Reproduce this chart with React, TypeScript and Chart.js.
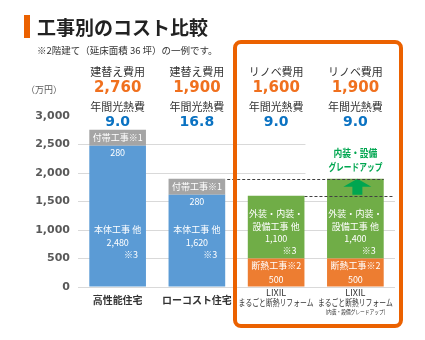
import { useEffect, useRef } from "react";
import { Chart, registerables } from "chart.js";

Chart.register(...registerables);

// ---- data ----
const categoryLines: string[][] = [
  ["高性能住宅"],
  ["ローコスト住宅"],
  ["LIXIL", "まるごと断熱リフォーム"],
  ["LIXIL", "まるごと断熱リフォーム", "(内装・設備グレードアップ)"],
];
const costTitles = ["建替え費用", "建替え費用", "リノベ費用", "リノベ費用"];
const costTotals = ["2,760", "1,900", "1,600", "1,900"];
const energyTitle = "年間光熱費";
const energyCosts = ["9.0", "16.8", "9.0", "9.0"];

const mainWork = [2480, 1620, null, null]; // 本体工事 他
const extraWork = [280, 280, null, null]; // 付帯工事
const insulationWork = [null, null, 500, 500]; // 断熱工事
const finishWork = [null, null, 1100, 1400]; // 外装・内装・設備工事 他

const yTicks = [0, 500, 1000, 1500, 2000, 2500, 3000];

const title = "工事別のコスト比較";
const subtitle = "※2階建て（延床面積 36 坪）の一例です。";
const unitLabel = "（万円）";
const upgradeNote = ["内装・設備", "グレードアップ"];

// ---- styles ----
const JP = '"Noto Sans CJK JP", "Noto Sans", sans-serif';
const NUM = '"DejaVu Sans", sans-serif';
const C_BLUE = "#5b9bd5";
const C_GRAY = "#a5a5a5";
const C_GREEN = "#70ad47";
const C_ORANGE = "#ed7d31";
const C_FRAME = "#eb6100";
const C_NUM_ORANGE = "#f0701e";
const C_NUM_BLUE = "#0a72c2";
const C_NOTE_GREEN = "#00a650";

const fmt = (v: number) => v.toLocaleString("en-US");

function text(
  ctx: CanvasRenderingContext2D,
  s: string,
  x: number,
  y: number,
  font: string,
  color: string,
  align: CanvasTextAlign = "center",
  maxWidth?: number
) {
  ctx.save();
  ctx.font = font;
  ctx.fillStyle = color;
  ctx.textAlign = align;
  ctx.textBaseline = "middle";
  if (maxWidth) ctx.fillText(s, x, y, maxWidth);
  else ctx.fillText(s, x, y);
  ctx.restore();
}

const decorPlugin = {
  id: "decor",
  beforeDatasetsDraw(chart: any) {
    // clear gridlines behind the upgrade note
    const { ctx, chartArea, scales } = chart;
    const y = scales.y;
    const bar3 = chart.getDatasetMeta(3).data[2];
    ctx.save();
    ctx.fillStyle = "#fff";
    const x0 = bar3.x + bar3.width / 2 + 1;
    ctx.fillRect(x0, y.getPixelForValue(2600), chartArea.right - x0 + 2, y.getPixelForValue(1950) - y.getPixelForValue(2600));
    ctx.restore();
  },
  afterDatasetsDraw(chart: any) {
    const { ctx, chartArea, scales } = chart;
    const xs = scales.x;

    // title
    ctx.save();
    ctx.fillStyle = C_FRAME;
    ctx.fillRect(24, 15, 6, 23);
    ctx.restore();
    text(ctx, title, 37, 28, `bold 19px ${JP}`, "#222", "left");
    text(ctx, subtitle, 37, 50, `9.5px ${JP}`, "#333", "left");
    text(ctx, unitLabel, 26, 90, `9px ${JP}`, "#595959", "left");

    // column headers
    costTitles.forEach((t, i) => {
      const x = xs.getPixelForValue(i);
      text(ctx, t, x, 72, `11px ${JP}`, "#333");
      text(ctx, costTotals[i], x, 88, `bold 15px ${NUM}`, C_NUM_ORANGE);
      text(ctx, energyTitle, x, 107, `11px ${JP}`, "#333");
      text(ctx, energyCosts[i], x, 122.5, `bold 14px ${NUM}`, C_NUM_BLUE);
    });

    // category labels
    categoryLines.forEach((lines, i) => {
      const x = xs.getPixelForValue(i);
      if (lines.length === 1) {
        text(ctx, lines[0], x, 300, `bold 10px ${JP}`, "#333");
      } else {
        text(ctx, lines[0], x, 293, `9px ${JP}`, "#333");
        text(ctx, lines[1], x, 303, `9px ${JP}`, "#333", "center", 75);
        if (lines[2]) text(ctx, lines[2], x, 312, `6px ${JP}`, "#333", "center", 60);
      }
    });

    const white = "#fff";
    const f9 = `9px ${JP}`;

    // main work labels (blue)
    chart.getDatasetMeta(0).data.forEach((bar: any, i: number) => {
      const v = mainWork[i];
      if (v == null) return;
      text(ctx, "本体工事 他", bar.x, bar.base - 57, f9, white);
      text(ctx, fmt(v), bar.x, bar.base - 44, f9, white);
      text(ctx, "※3", bar.x + bar.width / 2 - 8, bar.base - 32, f9, white, "right");
    });
    // extra work labels (gray)
    chart.getDatasetMeta(1).data.forEach((bar: any, i: number) => {
      const v = extraWork[i];
      if (v == null) return;
      text(ctx, "付帯工事※1", bar.x, (bar.y + bar.base) / 2, f9, white, "center", bar.width - 2);
      text(ctx, fmt(v), bar.x, bar.base + 7, f9, white);
    });
    // insulation (orange)
    chart.getDatasetMeta(2).data.forEach((bar: any, i: number) => {
      const v = insulationWork[i];
      if (v == null) return;
      text(ctx, "断熱工事※2", bar.x, bar.y + 7, f9, white, "center", bar.width - 2);
      text(ctx, fmt(v), bar.x, bar.y + 21, f9, white);
    });
    // finish work (green)
    chart.getDatasetMeta(3).data.forEach((bar: any, i: number) => {
      const v = finishWork[i];
      if (v == null) return;
      text(ctx, "外装・内装・", bar.x, bar.base - 45, f9, white);
      text(ctx, "設備工事 他", bar.x, bar.base - 32, f9, white);
      text(ctx, fmt(v), bar.x, bar.base - 20, f9, white);
      text(ctx, "※3", bar.x + bar.width / 2 - 8, bar.base - 8, f9, white, "right");
    });

    // upgrade annotation
    const bar2 = chart.getDatasetMeta(1).data[1];
    const bar3 = chart.getDatasetMeta(3).data[2];
    const bar4 = chart.getDatasetMeta(3).data[3];
    text(ctx, upgradeNote[0], bar4.x, 153, `bold 10px ${JP}`, C_NOTE_GREEN, "center", 44);
    text(ctx, upgradeNote[1], bar4.x, 167, `bold 10px ${JP}`, C_NOTE_GREEN, "center", 54);

    // arrow
    const ax = bar4.x + 2;
    const at = bar4.y;
    ctx.save();
    ctx.fillStyle = C_NOTE_GREEN;
    ctx.beginPath();
    ctx.moveTo(ax, at);
    ctx.lineTo(ax + 14, at + 8);
    ctx.lineTo(ax + 5, at + 8);
    ctx.lineTo(ax + 5, at + 16);
    ctx.lineTo(ax - 5, at + 16);
    ctx.lineTo(ax - 5, at + 8);
    ctx.lineTo(ax - 14, at + 8);
    ctx.closePath();
    ctx.fill();
    ctx.restore();

    // dashed lines
    ctx.save();
    ctx.strokeStyle = "#404040";
    ctx.lineWidth = 1;
    ctx.setLineDash([3, 2]);
    ctx.beginPath();
    const y1 = Math.round(bar4.y) + 0.5;
    ctx.moveTo(bar2.x + bar2.width / 2 + 2, y1);
    ctx.lineTo(bar4.x + bar4.width / 2, y1);
    const y2 = Math.round(bar3.y) + 0.5;
    ctx.moveTo(bar3.x + bar3.width / 2, y2);
    ctx.lineTo(chartArea.right - 2, y2);
    ctx.stroke();
    ctx.restore();

    // orange frame
    ctx.save();
    ctx.strokeStyle = C_FRAME;
    ctx.lineWidth = 4;
    ctx.beginPath();
    (ctx as any).roundRect(235, 42, 166, 284, 6);
    ctx.stroke();
    ctx.restore();
  },
};

export default function App() {
  const ref = useRef<HTMLCanvasElement>(null);
  useEffect(() => {
    if (!ref.current) return;
    const chart = new Chart(ref.current, {
      type: "bar",
      data: {
        labels: categoryLines.map((l) => l.join(" ")),
        datasets: [
          { label: "本体工事 他", data: mainWork as any, backgroundColor: C_BLUE },
          { label: "付帯工事", data: extraWork as any, backgroundColor: C_GRAY },
          { label: "断熱工事", data: insulationWork as any, backgroundColor: C_ORANGE },
          { label: "外装・内装・設備工事 他", data: finishWork as any, backgroundColor: C_GREEN },
        ],
      },
      options: {
        responsive: false,
        animation: false,
        devicePixelRatio: 1,
        datasets: { bar: { barPercentage: 0.715, categoryPercentage: 1, borderWidth: 0 } },
        layout: { padding: { top: 116, bottom: 53, right: 30, left: 0 } },
        plugins: { legend: { display: false }, tooltip: { enabled: false } },
        scales: {
          x: { display: false, stacked: true },
          y: {
            stacked: true,
            min: 0,
            max: 3000,
            afterFit: (s: any) => {
              s.width = 78;
            },
            afterBuildTicks: (s: any) => {
              s.ticks = yTicks.map((v) => ({ value: v }));
            },
            ticks: {
              padding: 8,
              color: "#595959",
              font: { family: NUM, size: 11, weight: "bold" },
              callback: (v: any) => fmt(Number(v)),
            },
            grid: {
              drawTicks: false,
              color: (c: any) => (c.tick && c.tick.value === 3000 ? "rgba(0,0,0,0)" : "#d9d9d9"),
            },
            border: { display: false },
          },
        },
      },
      plugins: [decorPlugin],
    });
    return () => chart.destroy();
  }, []);
  return (
    <div style={{ position: "fixed", left: 0, top: 0, width: 425, height: 340, background: "#fff" }}>
      <canvas ref={ref} width={425} height={340} style={{ display: "block", width: 425, height: 340 }} />
    </div>
  );
}
